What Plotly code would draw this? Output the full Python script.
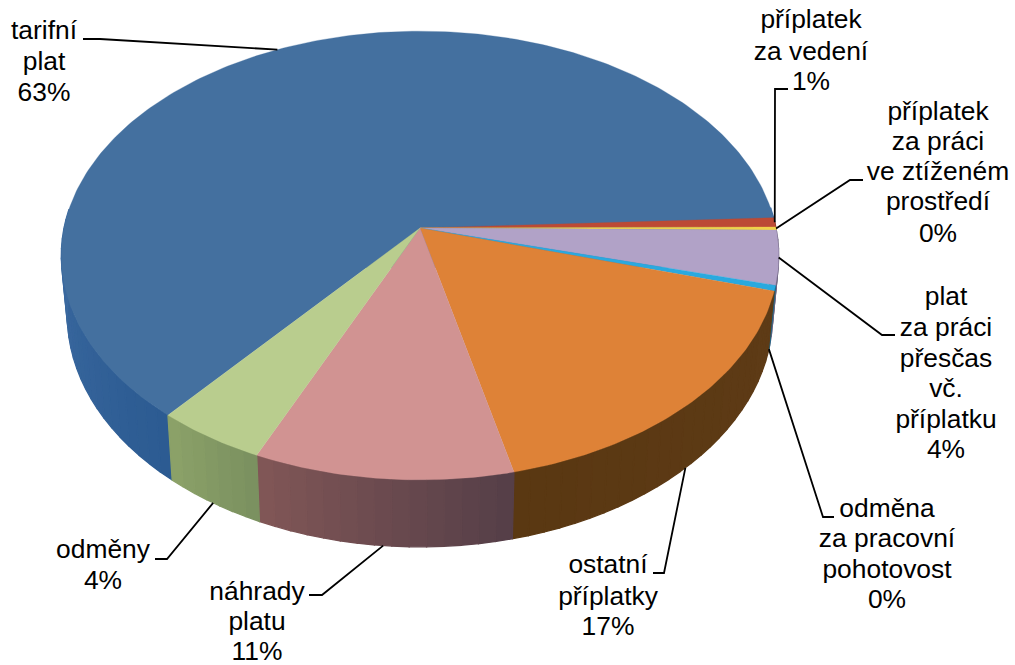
import math
import plotly.graph_objects as go

# ---- data (clockwise) ----
categories = ["tarifní plat", "příplatek za vedení", "příplatek za práci ve ztíženém prostředí",
              "plat za práci přesčas vč. příplatku", "odměna za pracovní pohotovost",
              "ostatní příplatky", "náhrady platu", "odměny"]
values = [63.1, 0.67, 0.22, 3.9, 0.4, 16.8, 10.4, 4.4]
top_colors = ["#44709F", "#BC4A35", "#F0D24A", "#B1A2C7", "#2AA9DF", "#DE8237", "#D19392", "#B9CD8E"]
wall_colors_a = ["#2C5B92", "#7A2E20", "#9A8430", "#6E6480", "#1A6A8C", "#5E3B16", "#563F48", "#7B9160"]
wall_colors_b = ["#3F6DA3", "#7A2E20", "#9A8430", "#6E6480", "#1A6A8C", "#5A3812", "#805656", "#8BA168"]

# text lines for each label: (text, x-centre, baseline y)
label_lines = [
    [("tarifní", 44, 39), ("plat", 44, 70), ("63%", 44, 101)],
    [("příplatek", 811, 28), ("za vedení", 811, 60), ("1%", 811, 90)],
    [("příplatek", 938, 120), ("za práci", 938, 150), ("ve ztíženém", 938, 180), ("prostředí", 938, 210), ("0%", 938, 242)],
    [("plat", 946, 305), ("za práci", 946, 336), ("přesčas", 946, 367), ("vč.", 946, 397), ("příplatku", 946, 428), ("4%", 946, 458)],
    [("odměna", 887, 517), ("za pracovní", 887, 547), ("pohotovost", 887, 578), ("0%", 887, 608)],
    [("ostatní", 608, 573), ("příplatky", 608, 605), ("17%", 608, 635)],
    [("náhrady", 257, 600), ("platu", 257, 630), ("11%", 257, 660)],
    [("odměny", 103, 558), ("4%", 103, 589)],
]
# leader elbow and stub end; the start comes from the slice's mid-angle
leader_elbow = [(100, 39), (775, 89), (850, 180), (882, 335), (823, 517), (664, 573), (322, 595), (167, 559)]
leader_stub = [(83, 39), (788, 89), (863, 180), (895, 335), (834, 517), (653, 573), (309, 595), (155, 559)]
leader_on_bottom_rim = [False, False, False, False, True, True, True, True]
FONT_SIZE = 26.4
BASELINE_SHIFT = 7.0

# ---- projection of the tilted disc ----
CX, K = 420.0, 0.1226
TOP = dict(b=356.0, a=221.0, y0=228.0)
BOT = dict(b=350.0, a=228.0, y0=287.0)
START = 230.1  # degrees of the first slice, counter-clockwise from east


def proj(theta_deg, r=1.0, f=TOP):
    t = math.radians(theta_deg)
    u, v = r * math.cos(t), r * math.sin(t)
    w = 1 + K * v
    return CX + f["b"] * u / w, f["y0"] - f["a"] * v / w


def hex2rgb(h):
    return [int(h[i:i + 2], 16) for i in (1, 3, 5)]


def mix(a, b, t):
    ca, cb = hex2rgb(a), hex2rgb(b)
    return "rgb(%d,%d,%d)" % tuple(round(x + (y - x) * t) for x, y in zip(ca, cb))


total = sum(values)
sweeps = [v / total * 360 for v in values]
bounds = [START]
for s in sweeps:
    bounds.append(bounds[-1] - s)

fig = go.Figure()


def poly(xs, ys, color):
    fig.add_trace(go.Scatter(x=xs, y=ys, mode="lines", fill="toself", fillcolor=color,
                             line=dict(color=color, width=1.3), hoverinfo="skip", showlegend=False))


# side wall
for i in range(len(values)):
    a0, a1 = bounds[i], bounds[i + 1]
    n = max(2, int(abs(a0 - a1) / 2.5) + 1)
    angs = [a0 + (a1 - a0) * j / n for j in range(n + 1)]
    angs = [a for a in angs if math.sin(math.radians(a)) < 0.12]
    if len(angs) < 2:
        continue
    for j in range(len(angs) - 1):
        p, q = angs[j], angs[j + 1]
        t = j / max(1, len(angs) - 2)
        x0, y0 = proj(p); x1, y1 = proj(q)
        x2, y2 = proj(q, f=BOT); x3, y3 = proj(p, f=BOT)
        poly([x0, x1, x2, x3, x0], [y0, y1, y2, y3, y0], mix(wall_colors_a[i], wall_colors_b[i], t))

# top face
for i in range(len(values)):
    a0, a1 = bounds[i], bounds[i + 1]
    n = max(2, int(abs(a0 - a1) / 1.0) + 1)
    pts = [proj(a0 + (a1 - a0) * j / n) for j in range(n + 1)]
    ap = proj(0, 0.0)
    xs = [ap[0]] + [p[0] for p in pts] + [ap[0]]
    ys = [ap[1]] + [p[1] for p in pts] + [ap[1]]
    fig.add_trace(go.Scatter(x=xs, y=ys, mode="lines", fill="toself", fillcolor=top_colors[i],
                             line=dict(color=top_colors[i], width=0.3), name=categories[i],
                             hoverinfo="name", showlegend=False))

# leaders
for i in range(len(values)):
    mid = (bounds[i] + bounds[i + 1]) / 2
    sx, sy = proj(mid, f=BOT if leader_on_bottom_rim[i] else TOP)
    ex, ey = leader_elbow[i]
    tx, ty = leader_stub[i]
    fig.add_trace(go.Scatter(x=[sx, ex, tx], y=[sy, ey, ty], mode="lines",
                             line=dict(color="black", width=1.8), hoverinfo="skip", showlegend=False))

# labels
for lines in label_lines:
    fig.add_trace(go.Scatter(x=[l[1] for l in lines], y=[l[2] - BASELINE_SHIFT for l in lines],
                             text=[l[0] for l in lines], mode="text", textposition="middle center",
                             textfont=dict(family="Liberation Sans", size=FONT_SIZE, color="black"),
                             hoverinfo="skip", showlegend=False))

fig.update_layout(width=1015, height=665, margin=dict(l=0, r=0, t=0, b=0),
                  paper_bgcolor="white", plot_bgcolor="white",
                  xaxis=dict(visible=False, range=[0, 1015], fixedrange=True),
                  yaxis=dict(visible=False, range=[665, 0], fixedrange=True))
fig.write_html("out.html", config={"displayModeBar": False},
               post_script="document.body.style.margin='0';")
